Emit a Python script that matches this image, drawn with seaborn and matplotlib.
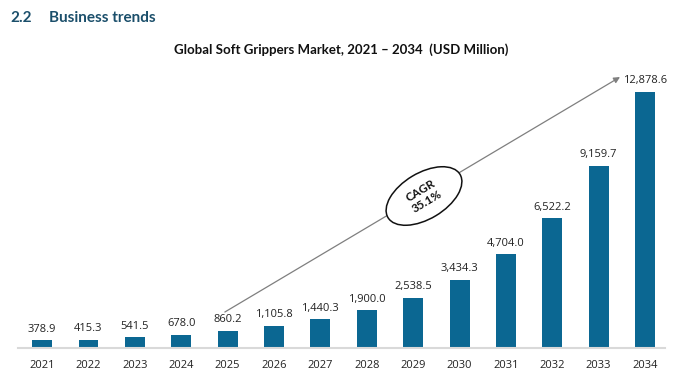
import numpy as np
import pandas as pd
import seaborn as sns
import matplotlib.pyplot as plt
from matplotlib.patches import Ellipse
from matplotlib.transforms import IdentityTransform

# Data
years = ["2021", "2022", "2023", "2024", "2025", "2026", "2027",
         "2028", "2029", "2030", "2031", "2032", "2033", "2034"]
market_size = [378.9, 415.3, 541.5, 678.0, 860.2, 1105.8, 1440.3,
               1900.0, 2538.5, 3434.3, 4704.0, 6522.2, 9159.7, 12878.6]
cagr_text = "CAGR\n35.1%"

df = pd.DataFrame({"Year": years, "Value": market_size})

sns.set_style("white")
plt.rcParams["font.family"] = ["Lato", "DejaVu Sans"]

W, H = 677, 383
fig = plt.figure(figsize=(W / 100, H / 100), dpi=100)
# axes placed in pixel terms: left 18, right 665, baseline y=348, top y=70
ax = fig.add_axes([18 / W, (H - 348) / H, (665 - 18) / W, (348 - 70) / H])

bar_color = "#0b6792"
sns.barplot(data=df, x="Year", y="Value", color=bar_color, width=0.43,
            saturation=1, ax=ax, edgecolor="none")

ax.bar_label(ax.containers[0], labels=[f"{v:,.1f}" for v in market_size],
             padding=4, fontsize=8, color="#222222", family="Open Sans")

ax.set_xlim(-0.52, 13.43)
ax.set_ylim(0, 13985)
ax.set_xlabel("")
ax.set_ylabel("")
ax.set_yticks([])
ax.tick_params(axis="x", length=0, labelsize=8, pad=9, labelcolor="#222222")
for lab in ax.get_xticklabels():
    lab.set_family("Open Sans")
for side in ["top", "right", "left"]:
    ax.spines[side].set_visible(False)
ax.spines["bottom"].set_color("#d9d9d9")
ax.spines["bottom"].set_linewidth(1.5)

# growth arrow from 2025 bar to above 2034
ax.annotate("", xy=(12.46, 13630), xytext=(3.94, 1810),
            arrowprops=dict(arrowstyle="-|>", color="#7f7f7f", lw=0.9,
                            mutation_scale=9, shrinkA=0, shrinkB=0),
            annotation_clip=False)

# CAGR ellipse (pixel coords)
ell = Ellipse((424, H - 196), 84, 46, angle=31, transform=IdentityTransform(),
              facecolor="white", edgecolor="#111111", lw=1.1, zorder=5)
fig.patches.append(ell)
fig.text(424 / W, (H - 196) / H, cagr_text, ha="center", va="center",
         rotation=31, fontsize=8.5, fontweight="bold", color="#111111",
         linespacing=1.1, zorder=6)

# header and title
fig.text(10 / W, (H - 18) / H, "2.2", fontsize=11, fontweight="bold",
         color="#1b4f6b", va="center")
fig.text(49 / W, (H - 18) / H, "Business trends", fontsize=11,
         fontweight="bold", color="#1b4f6b", va="center")
fig.text(341 / W, (H - 50) / H,
         "Global Soft Grippers Market, 2021 \u2013 2034  (USD Million)",
         fontsize=9.5, fontweight="bold", color="#111111", ha="center",
         va="center")

fig.savefig("out.png", dpi=100)
plt.close(fig)
